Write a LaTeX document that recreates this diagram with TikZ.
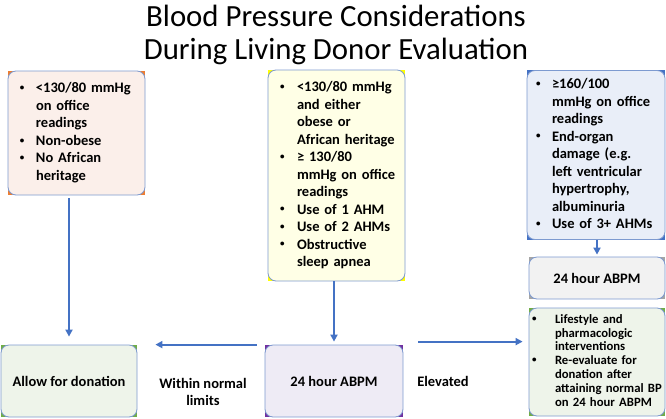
\documentclass[tikz,border=0pt]{standalone}
\usepackage{fontspec}
\setmainfont{Carlito}
\usepackage{xcolor}
\usetikzlibrary{arrows.meta}
\pgfdeclarelayer{bg}
\pgfsetlayers{bg,main}

\definecolor{arrowblue}{HTML}{4472C4}
\definecolor{edgeblue}{HTML}{7D9AD0}
\definecolor{lowfill}{HTML}{FBEFEA}
\definecolor{lowedge}{HTML}{ED7D31}
\definecolor{midfill}{HTML}{FFFFE6}
\definecolor{midedge}{HTML}{FFFF00}
\definecolor{highfill}{HTML}{E9EEF8}
\definecolor{highedge}{HTML}{4472C4}
\definecolor{grayfill}{HTML}{F2F2F2}
\definecolor{grayedge}{HTML}{A5A5A5}
\definecolor{greenfill}{HTML}{EEF4EA}
\definecolor{greenedge}{HTML}{70AD47}
\definecolor{purplefill}{HTML}{EEEBF5}
\definecolor{purpleedge}{HTML}{7030A0}

% bulleted item, lines broken by hand with \\
\newcommand{\itm}[2][17pt]{\lineskip=0pt\relax\noindent
	\makebox[#1][l]{\hspace{1pt}\raisebox{0.15em}{\fontsize{9}{9}\selectfont\textbullet}}%
	\begin{tabular}[t]{@{}l@{}}#2\end{tabular}\par}

\begin{document}
\begin{tikzpicture}[x=1pt, y=-1pt,
		box/.style={draw=edgeblue, line width=0.8pt, rounded corners=8pt, inner ysep=0pt, font=\fontsize{14.5}{17.5}\selectfont\bfseries},
		flow/.style={draw=arrowblue, line width=1.8pt, -{Triangle[length=7pt,width=7pt]}},
		lab/.style={font=\fontsize{14.5}{17.5}\selectfont\bfseries, align=center}]
	\useasboundingbox (0,0) rectangle (666,418);

	\node[font=\fontsize{30.8}{32.5}\selectfont, align=center] (title) at (336,35) {Blood Pressure Considerations\\During Living Donor Evaluation};

	% top row
	\node[box, fill=lowfill, minimum width=137pt, minimum height=124pt, inner xsep=11pt, text width=115pt] (low) at (76.5,133) {%
		\itm{<130/80 mmHg\\on office\\readings}
		\itm{Non-obese}
		\itm{No African\\heritage}};
	\node[box, fill=midfill, minimum width=137pt, minimum height=211pt, inner xsep=11pt, text width=115pt] (mid) at (336.5,175.5) {%
		\itm[18pt]{<130/80 mmHg\\and either\\obese or\\African heritage}
		\itm[18pt]{≥ 130/80\\mmHg on office\\readings}
		\itm[18pt]{Use of 1 AHM}
		\itm[18pt]{Use of 2 AHMs}
		\itm[18pt]{Obstructive\\sleep apnea}};
	\node[box, fill=highfill, minimum width=138pt, minimum height=169pt, inner xsep=8pt, text width=122pt] (high) at (596,155) {%
		\itm{≥160/100\\mmHg on office\\readings}
		\itm{End-organ\\damage (e.g.\\left ventricular\\hypertrophy,\\albuminuria}
		\itm{Use of 3+ AHMs}};

	% lower row
	\node[box, fill=grayfill, minimum width=136pt, minimum height=42pt] (abpmR) at (597,278) {24 hour ABPM};
	\node[box, fill=greenfill, minimum width=136pt, minimum height=108pt, inner xsep=2pt, text width=132pt, font=\fontsize{12.7}{13.8}\selectfont\bfseries] (treat) at (597,362) {%
		\itm[24pt]{Lifestyle and\\pharmacologic\\interventions}
		\itm[24pt]{Re-evaluate for\\donation after\\attaining normal BP\\on 24 hour ABPM}};
	\node[box, fill=greenfill, minimum width=136pt, minimum height=72pt] (allow) at (69,381) {Allow for donation};
	\node[box, fill=purplefill, minimum width=138pt, minimum height=72pt] (abpmC) at (334,381) {24 hour ABPM};

	\node[lab] (normal) at (203,392) {Within normal\\limits};
	\node[lab] (elev) at (443,381) {Elevated};

	\begin{pgfonlayer}{bg}
		\foreach \n/\c in {low/lowedge, mid/midedge, high/highedge, abpmR/grayedge, treat/greenedge, allow/greenedge, abpmC/purpleedge}
			\fill[\c] (\n.south west) rectangle (\n.north east);
	\end{pgfonlayer}

	\coordinate (rmid) at ([yshift=3pt]abpmC.north east);
	\draw[flow, shorten <=3pt, shorten >=8pt] (low.south -| allow.north) -- (allow.north);
	\draw[flow, shorten >=3pt] (mid.south -| abpmC.north) -- (abpmC.north);
	\draw[flow, shorten >=2pt] (high.south -| abpmR.north) -- (abpmR.north);
	\draw[flow, shorten <=8pt, shorten >=18pt] (abpmC.north west) -- (abpmC.north west -| allow.north east);
	\draw[flow, shorten <=15pt, shorten >=6pt] (rmid) -- (rmid -| treat.west);
\end{tikzpicture}
\end{document}
